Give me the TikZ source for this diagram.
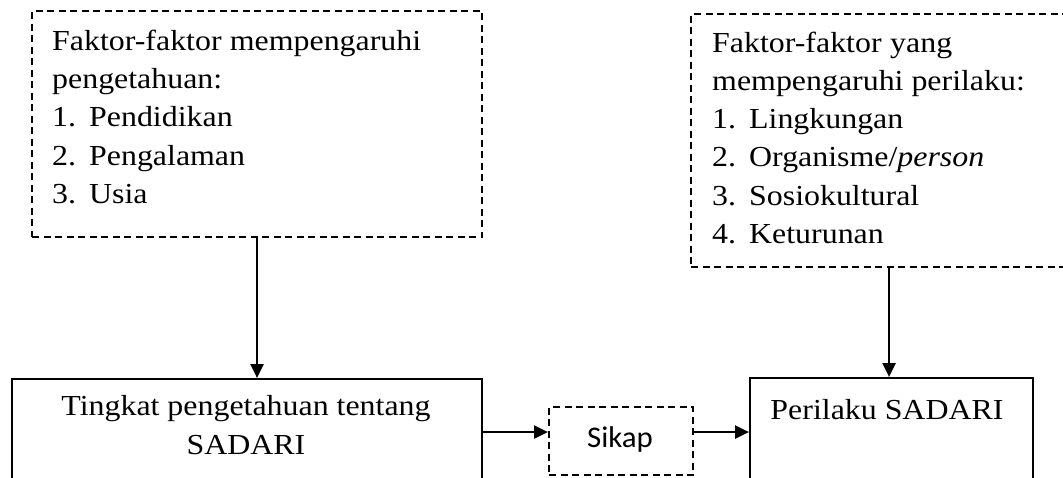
\documentclass[tikz,border=0pt]{standalone}
\usepackage{fontspec}
\setmainfont{Liberation Serif}[FakeStretch=1.10]
\newfontfamily\sikapfont{Carlito}[FakeStretch=1.03]
\usetikzlibrary{arrows.meta}
\newcommand\itm[2]{\makebox[37pt][l]{#1}#2}
\begin{document}
\begin{tikzpicture}[x=1pt,y=-1pt,
  solidbox/.style={draw, line width=2.1pt, inner sep=0pt, anchor=north west},
  dbox/.style={draw, line width=2.1pt, dash pattern=on 7pt off 4.5pt, inner sep=0pt, anchor=north west},
  arr/.style={line width=2.2pt, -{Triangle[length=14pt,width=13pt]}},
  txt/.style={anchor=base west, inner sep=0pt, font=\fontsize{29}{38.4}\selectfont},
  ctxt/.style={anchor=base, inner sep=0pt, font=\fontsize{29}{38.4}\selectfont},
]
\clip (0,0) rectangle (1063,477);
% boxes
\node[dbox, minimum width=450pt, minimum height=226pt] (f1) at (31,10) {};
\node[dbox, minimum width=396pt, minimum height=253pt] (f2) at (690,13) {};
\node[solidbox, minimum width=470pt, minimum height=140pt] (t1) at (11,378) {};
\node[solidbox, minimum width=283pt, minimum height=140pt] (t2) at (749,377) {};
\node[dbox, minimum width=144pt, minimum height=68pt] (s) at (548,406) {};
% texts top left
\node[txt] (l1) at (52,50) {\makebox[369pt][s]{Faktor-faktor mempengaruhi}};
\node[txt] (l2) at (52,88.4) {pengetahuan:};
\node[txt] (l3) at (52,126.8) {\itm{1.}{Pendidikan}};
\node[txt] (l4) at (52,165.2) {\itm{2.}{Pengalaman}};
\node[txt] (l5) at (52,203.6) {\itm{3.}{Usia}};
% texts top right
\node[txt] (r1) at (712,52) {\makebox[240pt][s]{Faktor-faktor yang}};
\node[txt] (r2) at (712,90.3) {mempengaruhi perilaku:};
\node[txt] (r3) at (712,128.6) {\itm{1.}{Lingkungan}};
\node[txt] (r4) at (712,166.9) {\itm{2.}{Organisme/\textit{person}}};
\node[txt] (r5) at (712,205.2) {\itm{3.}{Sosiokultural}};
\node[txt] (r6) at (712,243.5) {\itm{4.}{Keturunan}};
% bottom texts
\node[ctxt] (b1) at (246,415) {Tingkat pengetahuan tentang};
\node[ctxt] (b2) at (246,454) {SADARI};
\node[ctxt] (b3) at (887,419) {Perilaku SADARI};
\node[anchor=base, inner sep=0pt, font=\sikapfont\fontsize{30}{34}\selectfont] (sk) at (620,447) {Sikap};
% connectors
\draw[arr] (f1.south) -- (f1.south |- t1.north);
\draw[arr] (f2.south) -- (f2.south |- t2.north);
\coordinate (a1) at ([yshift=9pt]s.west);
\coordinate (a2) at ([yshift=9pt]s.east);
\draw[arr] (a1 -| t1.east) -- (a1);
\draw[arr] (a2) -- (a2 -| t2.west);
\end{tikzpicture}
\end{document}
